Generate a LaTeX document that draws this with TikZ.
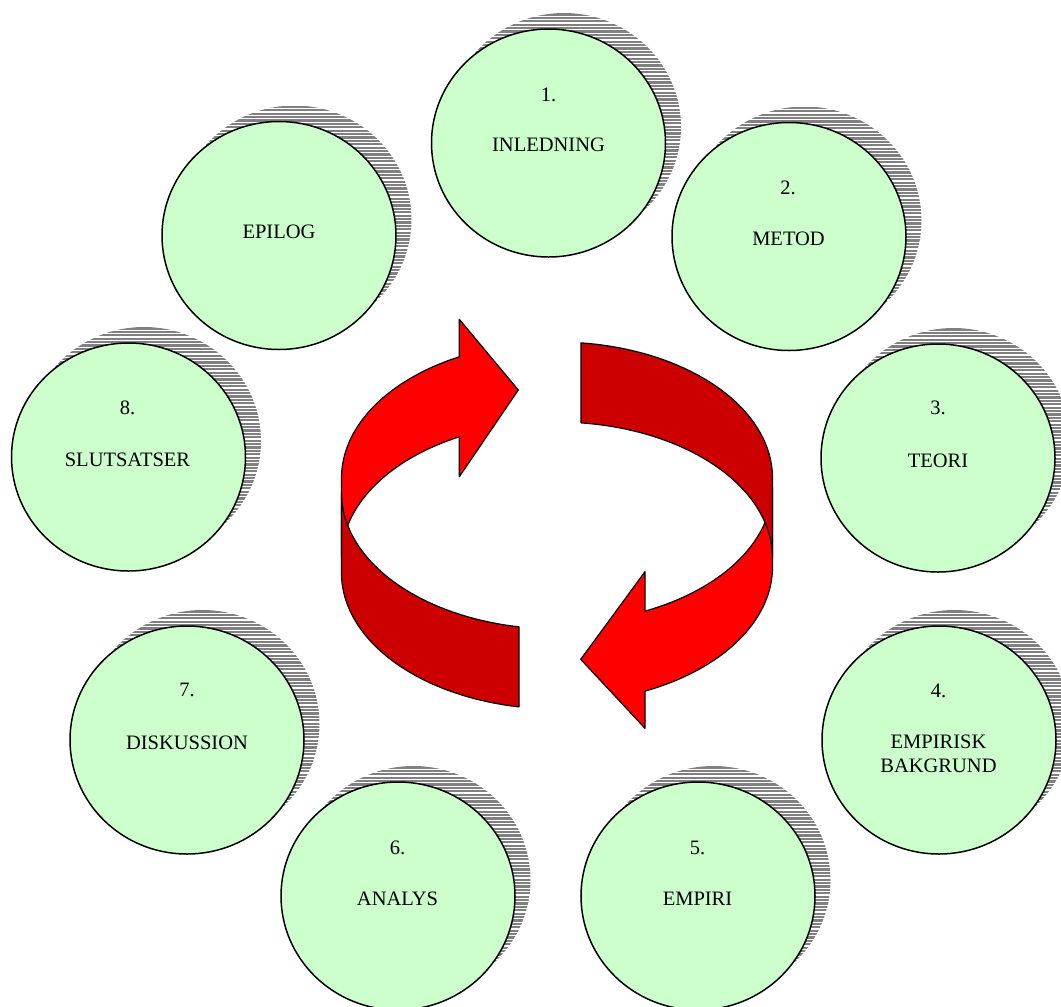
\documentclass[tikz,border=0pt]{standalone}
\usepackage{fontspec}
\setmainfont{Liberation Serif}
\usetikzlibrary{shapes.geometric}

\definecolor{ballfill}{RGB}{204,255,204}
\definecolor{shadegray}{RGB}{128,128,128}
\definecolor{arrowred}{RGB}{255,0,0}
\definecolor{arrowdark}{RGB}{204,0,0}

\tikzset{
  ball/.style={ellipse, draw=black, line width=1.5pt, fill=ballfill,
    minimum width=234pt, minimum height=228pt, inner sep=0pt},
  lbl/.style={font=\fontsize{20.5}{24}\selectfont, inner sep=0pt, align=center, text=black},
  hatch/.style={draw=shadegray, line width=2.2pt},
  redface/.style={fill=arrowred, draw=black, line width=1.2pt, line join=round},
  darkface/.style={fill=arrowdark, draw=black, line width=1.2pt, line join=round},
}

% striped drop shadow, offset up and to the right of a ball centred at (#1,#2)
\newcommand{\ballshadow}[2]{%
  \begin{scope}
    \clip (#1+15.5,#2-16) ellipse [x radius=117pt, y radius=114pt];
    \foreach \k in {0,...,70}
      \draw[hatch] (#1-110,#2-132+\k*3.4) -- ++(260,0);
  \end{scope}}

\begin{document}
\begin{tikzpicture}[x=1pt, y=-1pt]
\useasboundingbox (0,0) rectangle (1061,1007);
\fill[white] (0,0) rectangle (1061,1007);

% --- chapter balls ---
\ballshadow{548.5}{143}
\node[ball] (c1) at (548.5,143) {};
\node[lbl] (n1) at (548.5,95) {1.};
\node[lbl] (t1) at (548.5,145) {INLEDNING};

\ballshadow{279}{235.5}
\node[ball] (c0) at (279,235.5) {};
\node[lbl] (t0) at (279,231.5) {EPILOG};

\ballshadow{789}{236.5}
\node[ball] (c2) at (789,236.5) {};
\node[lbl] (n2) at (788,187.5) {2.};
\node[lbl] (t2) at (788.5,238.5) {METOD};

\ballshadow{128.5}{457}
\node[ball] (c8) at (128.5,457) {};
\node[lbl] (n8) at (127.5,407.5) {8.};
\node[lbl] (t8) at (127.5,459.5) {SLUTSATSER};

\ballshadow{938}{458}
\node[ball] (c3) at (938,458) {};
\node[lbl] (n3) at (938,408) {3.};
\node[lbl] (t3) at (938,461) {TEORI};

\ballshadow{187}{740}
\node[ball] (c7) at (187,740) {};
\node[lbl] (n7) at (187,690) {7.};
\node[lbl] (t7) at (187,743) {DISKUSSION};

\ballshadow{939}{740}
\node[ball] (c4) at (939,740) {};
\node[lbl] (n4) at (938.5,691) {4.};
\node[lbl] (t4) at (938.5,754) {EMPIRISK\\BAKGRUND};

\ballshadow{398}{896}
\node[ball] (c6) at (398,896) {};
\node[lbl] (n6) at (397.5,848) {6.};
\node[lbl] (t6) at (397.5,898.5) {ANALYS};

\ballshadow{698}{896}
\node[ball] (c5) at (698,896) {};
\node[lbl] (n5) at (697.5,848) {5.};
\node[lbl] (t5) at (697.5,898.5) {EMPIRI};

% --- circular ribbon arrows ---
% left arrow: front face
\draw[redface] (459.3,319.3) -- (518.3,390) -- (459.3,476.7) -- (459.3,436.8)
  -- plot[domain=116.96:180, samples=40] ({557+215.5*cos(\x)},{558-136*sin(\x)})
  -- plot[domain=180:116.96, samples=40] ({557+215.5*cos(\x)},{478-136*sin(\x)})
  -- cycle;
% left arrow: inner face
\draw[darkface]
  plot[domain=180:259.85, samples=40] ({557+215.5*cos(\x)},{493-136*sin(\x)})
  -- plot[domain=259.85:180, samples=40] ({557+215.5*cos(\x)},{573-136*sin(\x)})
  -- cycle;

% right arrow: front face
\draw[redface] (645,571.7) -- (580.7,659.3) -- (645,728.3) -- (645,691.1)
  -- plot[domain=-65.9:0, samples=40] ({557+215.5*cos(\x)},{567-136*sin(\x)})
  -- plot[domain=0:-65.9, samples=40] ({557+215.5*cos(\x)},{487-136*sin(\x)})
  -- cycle;
% right arrow: inner face
\draw[darkface]
  plot[domain=83.6:0, samples=40] ({557+215.5*cos(\x)},{478-136*sin(\x)})
  -- plot[domain=0:83.6, samples=40] ({557+215.5*cos(\x)},{558-136*sin(\x)})
  -- cycle;
\end{tikzpicture}
\end{document}
